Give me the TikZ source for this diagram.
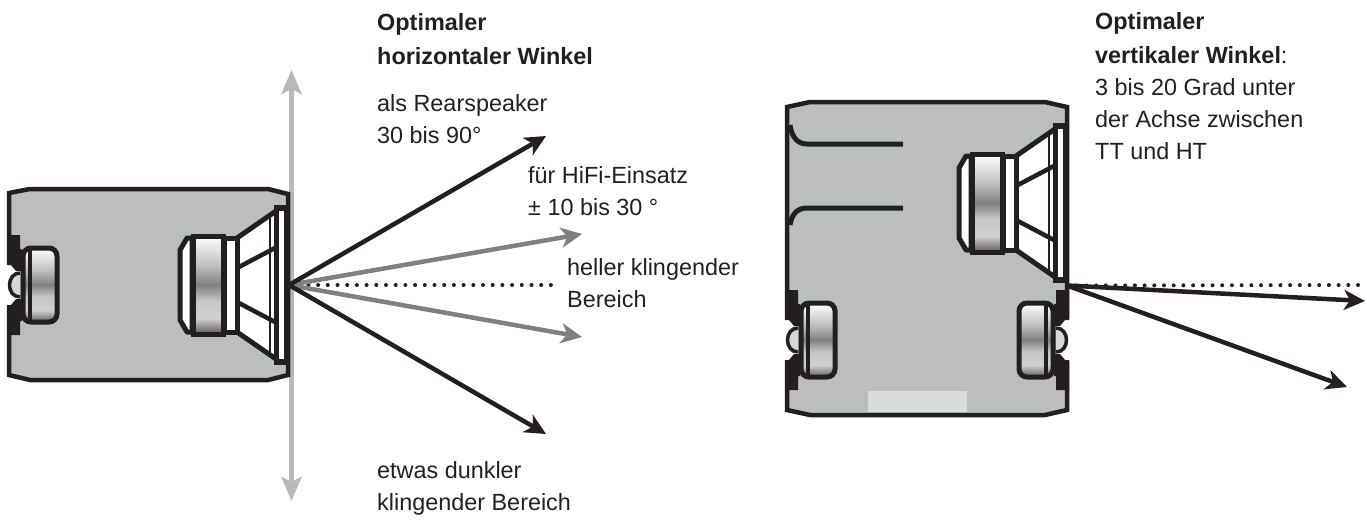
\documentclass[tikz,border=0pt]{standalone}
\usepackage{fontspec}
\setmainfont{Liberation Sans}
\usetikzlibrary{arrows.meta}
\definecolor{cab}{HTML}{BBBDBF}
\definecolor{ink}{HTML}{231F20}
\definecolor{lightpanel}{HTML}{D9DBDC}
\definecolor{midarrow}{HTML}{808080}
\definecolor{palearrow}{HTML}{B9B9B9}
\pgfdeclareverticalshading{coneband}{100bp}{
  color(0bp)=(ink!90);
  color(25bp)=(black!65);
  color(33bp)=(black!18);
  color(42bp)=(black!22);
  color(50bp)=(black!50);
  color(60bp)=(black!25);
  color(75bp)=(white);
  color(88bp)=(black!10);
  color(100bp)=(black!50)}
\tikzset{
  cabinet/.style={draw=ink,fill=cab,line width=4.5pt,line join=miter},
  part/.style={draw=ink,line width=5pt,line join=round},
  thin part/.style={draw=ink,line width=3pt},
  band/.style={draw=ink,line width=5pt,shading=coneband},
  txt/.style={font=\fontsize{23.4}{32}\selectfont,text=ink,align=left,inner sep=0pt,anchor=north west},
  blackarrow/.style={draw=ink,line width=4.5pt,-{Stealth[length=21pt,width=20pt,inset=6pt]}},
  grayarrow/.style={draw=midarrow,line width=4.5pt,-{Stealth[length=21pt,width=20pt,inset=6pt]}},
  palearr/.style={draw=palearrow,line width=4.8pt,{Stealth[length=24pt,width=20pt,inset=5pt]}-{Stealth[length=24pt,width=20pt,inset=5pt]}},
  dots/.style={draw=ink,line width=4pt,line cap=round,dash pattern=on 0pt off 9.7pt}
}
\newcommand{\woofer}[2]{%
\begin{scope}[shift={(#1,#2)}]
  \fill[white] (-51,-47) -- (-13,-73) -- (-13,73) -- (-51,47) -- cycle;
  \draw[part] (-51,-47) -- (-12,-74) (-51,47) -- (-12,74);
  \draw[part,line width=4.5pt] (-51,-17) -- (-13,-37) (-51,17) -- (-13,37);
  \fill[ink] (-14,-80) rectangle (-1,80);
  \fill[white] (-9,-74) rectangle (-4,74);
  \draw[draw=ink,line width=1.5pt] (-18,-68) -- (-18,68);
  \draw[part,fill=white] (-64,-47) rectangle (-51,47);
  \draw[part,fill=white] (-96,-47) -- (-101,-47) -- (-108,-35) -- (-108,35) -- (-101,47) -- (-96,47) -- cycle;
  \draw[band] (-95,-49) rectangle (-65,49);
\end{scope}}
\newcommand{\tweeter}[3]{%
\begin{scope}[shift={(#1,#2)},xscale=#3]
  \fill[white] (-3,-21) rectangle (11,21);
  \draw[part,line width=3.5pt,fill=white!40!cab] (11,-12) .. controls (-3,-12) and (-3,12) .. (11,12);
  \fill[ink] (-2,-50) -- (11,-50) -- (11,-36) -- (13,-36) -- (13,-14) -- (7,-14) -- (2,-20) -- (-2,-20) -- cycle;
  \fill[ink] (-2,50) -- (11,50) -- (11,36) -- (13,36) -- (13,14) -- (7,14) -- (2,20) -- (-2,20) -- cycle;
  \draw[band,rounded corners=8pt] (14,-37) rectangle (48,37);
  \draw[thin part,line width=3.5pt] (21,-35) -- (21,35);
\end{scope}}
\begin{document}
\begin{tikzpicture}[x=1pt,y=-1pt]
\useasboundingbox (0,0) rectangle (1367,520);
% vertical reference arrow
\coordinate (vt) at (291.5,70);
\coordinate (vb) at (291.5,501);
\draw[palearr] (vb) -- (vt);
% left cabinet
\node[inner sep=0pt,minimum size=0pt] (lorigin) at (289,285) {};
\draw[cabinet] (9,193) -- (30,189) -- (268,189) -- (288,194) -- (288,375) -- (268,380) -- (30,380) -- (9,375) -- cycle;
\tweeter{9}{285}{1}
\woofer{288}{285}
% left arrows
\coordinate (a1) at (546,136);
\coordinate (a2) at (582,234);
\coordinate (a3) at (582,337);
\coordinate (a4) at (546,434);
\coordinate (a5) at (553,285);
\draw[dots] (lorigin.center) -- (a5);
\draw[grayarrow] (lorigin.center) -- (a2);
\draw[grayarrow] (lorigin.center) -- (a3);
\draw[blackarrow] (lorigin.center) -- (a1);
\draw[blackarrow] (lorigin.center) -- (a4);
% right cabinet
\draw[cabinet] (787,107) -- (810,102) -- (1045,102) -- (1067,107) -- (1067,410) -- (1045,415) -- (810,415) -- (787,410) -- cycle;
\fill[lightpanel] (868,391) rectangle (967,412);
\draw[part,line cap=butt] (790,125) .. controls (792,138) and (798,144) .. (807,144) -- (903,144);
\draw[part,line cap=butt] (790,225) .. controls (792,213) and (798,208) .. (807,208) -- (903,208);
\woofer{1067}{203}
\tweeter{787}{340}{1}
\tweeter{1067}{340}{-1}
% right arrows
\node[inner sep=0pt,minimum size=0pt] (rorigin) at (1067,285.5) {};
\coordinate (b1) at (1360,285);
\coordinate (b2) at (1365,301);
\coordinate (b3) at (1347,387);
\draw[dots] (rorigin.center) -- (b1);
\draw[blackarrow] (rorigin.center) -- (b2);
\draw[blackarrow] (rorigin.center) -- (b3);
% texts
\node[txt] (t1) at (377,13) {\textbf{Optimaler}\\[2pt]\textbf{horizontaler Winkel}};
\node[txt] (t2) at (377,94) {als Rearspeaker\\30 bis 90°};
\node[txt] (t3) at (528,166) {für HiFi-Einsatz\\± 10 bis 30 °};
\node[txt] (t4) at (567,258.5) {heller klingender\\Bereich};
\node[txt] (t5) at (377,461.5) {etwas dunkler\\klingender Bereich};
\node[txt] (t6) at (1095,12) {\textbf{Optimaler}\\[2pt]\textbf{vertikaler Winkel}:\\3 bis 20 Grad unter\\der Achse zwischen\\TT und HT};
\end{tikzpicture}
\end{document}
